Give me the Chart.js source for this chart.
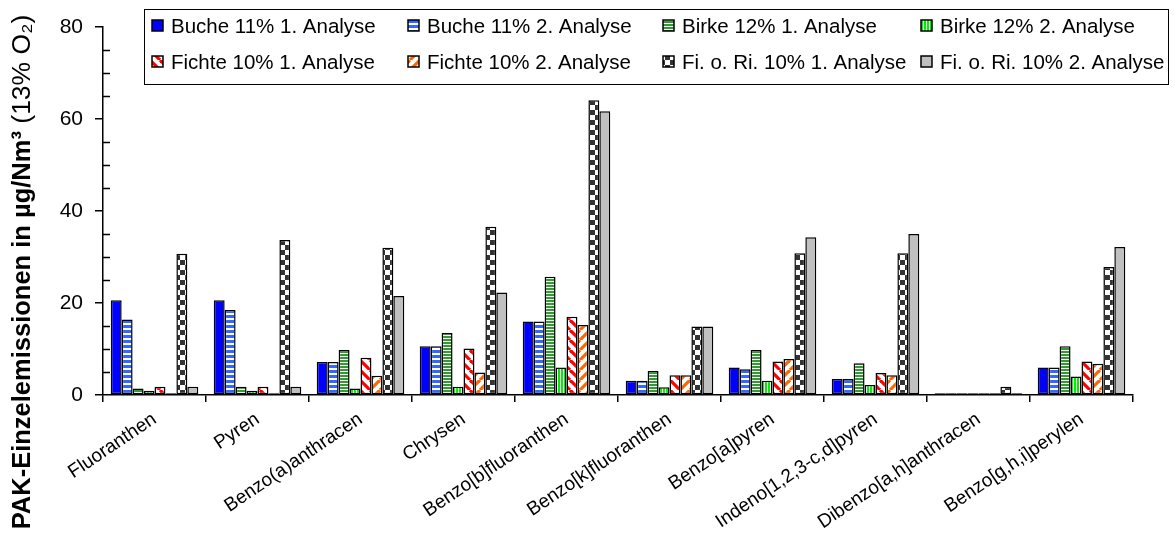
<!DOCTYPE html>
<html>
<head>
<meta charset="utf-8">
<script src="https://cdn.jsdelivr.net/npm/chart.js@4.4.1/dist/chart.umd.min.js"></script>
<style>
  html, body { margin: 0; padding: 0; background: #fff; }
  #wrap { width: 1175px; height: 540px; position: relative; }
</style>
</head>
<body>
<div id="wrap"><canvas id="pakChart"></canvas></div>
<script>
// categories and series (µg/Nm³ at 13% O2)
const categories = ['Fluoranthen', 'Pyren', 'Benzo(a)anthracen', 'Chrysen', 'Benzo[b]fluoranthen',
    'Benzo[k]fluoranthen', 'Benzo[a]pyren', 'Indeno[1,2,3-c,d]pyren', 'Dibenzo[a,h]anthracen', 'Benzo[g,h,i]perylen'];
const seriesNames = ['Buche 11% 1. Analyse', 'Buche 11% 2. Analyse', 'Birke 12% 1. Analyse', 'Birke 12% 2. Analyse',
    'Fichte 10% 1. Analyse', 'Fichte 10% 2. Analyse', 'Fi. o. Ri. 10% 1. Analyse', 'Fi. o. Ri. 10% 2. Analyse'];
const buche1  = [20.6, 20.6, 7.2, 10.6, 16.0, 3.1, 6.0, 3.5, 0.4, 6.0];
const buche2  = [16.4, 18.5, 7.2, 10.6, 16.0, 3.1, 5.6, 3.5, 0.4, 6.0];
const birke1  = [1.4, 1.8, 9.8, 13.5, 25.7, 5.2, 9.8, 6.9, 0.4, 10.6];
const birke2  = [0.9, 0.9, 1.4, 1.8, 6.0, 1.7, 3.1, 2.2, 0.4, 4.0];
const fichte1 = [1.8, 1.8, 8.1, 10.1, 17.0, 4.3, 7.3, 4.8, 0.4, 7.3];
const fichte2 = [0.4, 0.4, 4.2, 4.9, 15.2, 4.3, 7.8, 4.3, 0.4, 6.8];
const fori1   = [30.7, 33.7, 32.0, 36.6, 64.1, 14.9, 30.8, 30.8, 1.8, 27.8];
const fori2   = [1.8, 1.8, 21.5, 22.3, 61.7, 14.9, 34.3, 35.0, 0.4, 32.2];
const yTicks  = [0, 20, 40, 60, 80];

// fill patterns
function makePattern(w, h, draw) {
    const c = document.createElement('canvas');
    c.width = w; c.height = h;
    const g = c.getContext('2d');
    g.fillStyle = '#fff';
    g.fillRect(0, 0, w, h);
    draw(g);
    return g.createPattern(c, 'repeat');
}
const hStripes = (col, p, t) => makePattern(4, p, g => { g.fillStyle = col; g.fillRect(0, 0, 4, t); });
const vStripes = (col, p, t) => makePattern(p, 4, g => { g.fillStyle = col; g.fillRect(0, 0, t, 4); });
function diag(col, down) {
    return makePattern(10, 10, g => {
        g.strokeStyle = col; g.lineWidth = 3.2;
        for (let k = -10; k <= 20; k += 10) {
            g.beginPath();
            if (down) { g.moveTo(k, 0); g.lineTo(k + 10, 10); }
            else { g.moveTo(k, 10); g.lineTo(k + 10, 0); }
            g.stroke();
        }
    });
}
const checker = makePattern(10, 10, g => {
    g.fillStyle = '#333';
    g.fillRect(0, 0, 5, 5);
    g.fillRect(5, 5, 5, 5);
});

const fills = [
    '#0000FF',
    hStripes('#3366FF', 5, 3),
    hStripes('#339933', 3, 2),
    vStripes('#00EE00', 3, 2),
    diag('#FF0000', true),
    diag('#FF6600', false),
    checker,
    '#C0C0C0'
];
const values = [buche1, buche2, birke1, birke2, fichte1, fichte2, fori1, fori2];

// y-axis title, minor ticks and boxed legend
const extras = {
    id: 'extras',
    afterDraw(chart) {
        const ctx = chart.ctx;
        const y = chart.scales.y;
        const area = chart.chartArea;
        ctx.save();
        // minor ticks, inside the axis
        ctx.strokeStyle = '#000';
        ctx.lineWidth = 1.5;
        for (let v = 5; v < 80; v += 5) {
            if (v % 20 === 0) continue;
            const py = Math.round(y.getPixelForValue(v)) + 0.5;
            ctx.beginPath(); ctx.moveTo(area.left, py); ctx.lineTo(area.left + 7, py); ctx.stroke();
        }
        // axis title
        ctx.translate(23, 272);
        ctx.rotate(-Math.PI / 2);
        ctx.fillStyle = '#000';
        ctx.textBaseline = 'middle';
        const boldPart = 'PAK-Einzelemissionen in µg/Nm³';
        const normPart = ' (13% O₂)';
        const boldFont = 'bold 25.5px Arial, "Liberation Sans"';
        const normFont = '26.5px Arial, "Liberation Sans"';
        ctx.font = boldFont;
        const wb = ctx.measureText(boldPart).width;
        ctx.font = normFont;
        const wn = ctx.measureText(normPart).width;
        const x0 = -(wb + wn) / 2;
        ctx.font = boldFont;
        ctx.fillText(boldPart, x0, 0);
        ctx.font = normFont;
        ctx.fillText(normPart, x0 + wb, 0);
        ctx.restore();

        // legend
        ctx.save();
        ctx.strokeStyle = '#000';
        ctx.lineWidth = 1;
        ctx.fillStyle = '#fff';
        ctx.fillRect(144.5, 9.5, 1024, 75);
        ctx.strokeRect(144.5, 9.5, 1024, 75);
        const colX = [152, 408, 663, 921];
        const rowY = [26, 62];
        ctx.font = '20.5px Arial, "Liberation Sans"';
        ctx.textBaseline = 'middle';
        seriesNames.forEach((name, i) => {
            const lx = colX[i % 4];
            const ly = rowY[Math.floor(i / 4)];
            ctx.fillStyle = fills[i];
            ctx.fillRect(lx, ly - 6, 11, 11);
            ctx.lineWidth = 1.5;
            ctx.strokeRect(lx, ly - 6, 11, 11);
            ctx.fillStyle = '#000';
            ctx.fillText(name, lx + 19, ly + 1);
        });
        ctx.restore();
    }
};

new Chart(document.getElementById('pakChart'), {
    type: 'bar',
    data: {
        labels: categories,
        datasets: seriesNames.map((name, i) => ({
            label: name,
            data: values[i],
            backgroundColor: fills[i],
            borderColor: '#000',
            borderWidth: 1.5,
            borderSkipped: false,
            categoryPercentage: 0.85,
            barPercentage: 1.0
        }))
    },
    options: {
        responsive: true,
        maintainAspectRatio: false,
        animation: false,
        layout: { padding: { left: 0, right: 42, top: 27, bottom: 0 } },
        plugins: {
            legend: { display: false },
            tooltip: { enabled: false }
        },
        scales: {
            x: {
                offset: true,
                grid: { offset: true, drawOnChartArea: false, drawTicks: true, tickLength: 7, color: '#000', lineWidth: 1.5 },
                border: { display: true, color: '#000', width: 1.5 },
                ticks: {
                    color: '#000',
                    font: { family: 'Arial, "Liberation Sans"', size: 19 },
                    minRotation: 34,
                    maxRotation: 34,
                    padding: 6
                },
                afterFit: scale => { scale.height = 145; }
            },
            y: {
                min: 0,
                max: 80,
                afterBuildTicks: scale => { scale.ticks = yTicks.map(v => ({ value: v })); },
                grid: { drawOnChartArea: false, drawTicks: true, tickLength: 8, color: '#000', lineWidth: 1.5 },
                border: { display: true, color: '#000', width: 1.5 },
                ticks: {
                    color: '#000',
                    font: { family: 'Arial, "Liberation Sans"', size: 21 },
                    padding: 12
                },
                afterFit: scale => { scale.width = 103; }
            }
        }
    },
    plugins: [extras]
});
</script>
</body>
</html>
